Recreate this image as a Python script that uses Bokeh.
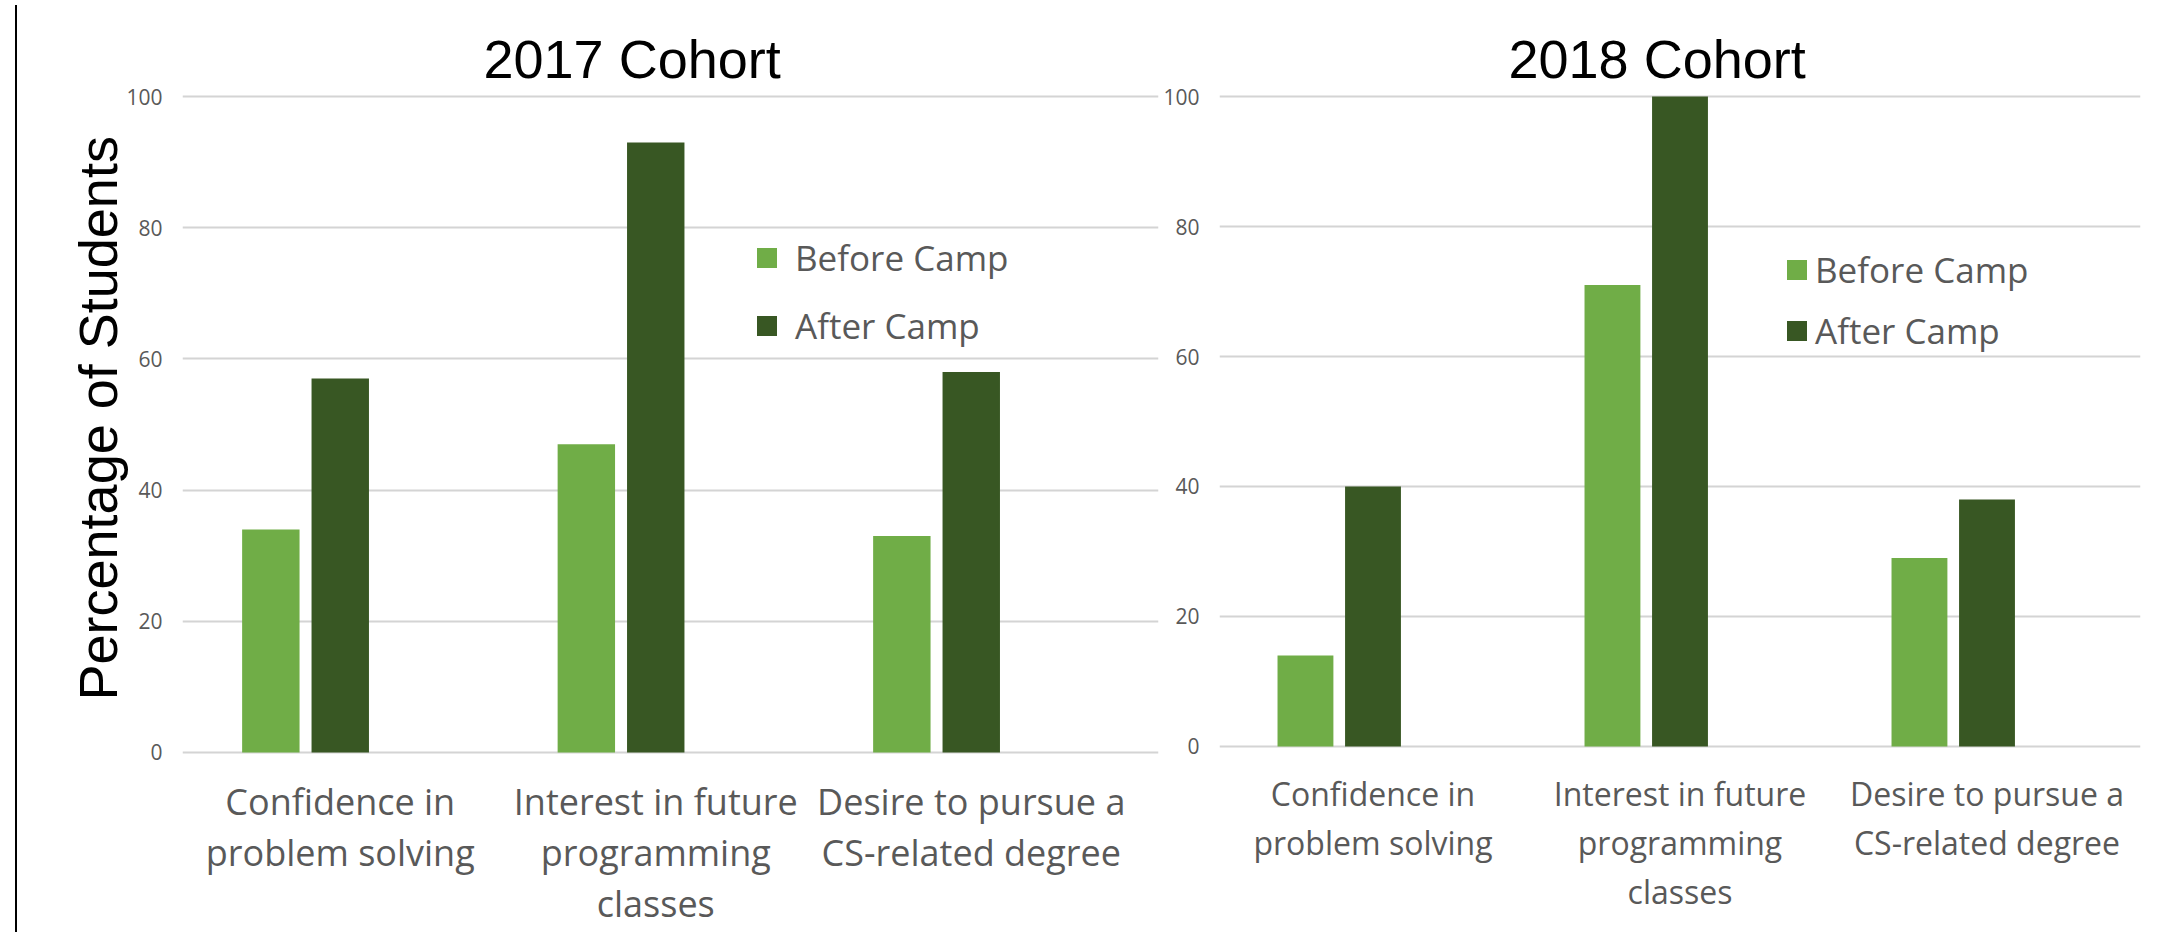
from bokeh.plotting import figure
from bokeh.models import (ColumnDataSource, Range1d, FixedTicker, Legend, LegendItem,
                          Div, Spacer, LabelSet, Title)
from bokeh.core.properties import value
from bokeh.layouts import row
from bokeh.transform import dodge
from bokeh.embed import file_html
from bokeh.resources import INLINE

# ---------------- data ----------------
categories = ["Confidence in problem solving",
              "Interest in future programming classes",
              "Desire to pursue a CS-related degree"]
category_labels = ["Confidence in\nproblem solving",
                   "Interest in future\nprogramming\nclasses",
                   "Desire to pursue a\nCS-related degree"]
before_2017 = [34, 47, 33]
after_2017 = [57, 93, 58]
before_2018 = [14, 71, 29]
after_2018 = [40, 100, 38]
y_ticks = [0, 20, 40, 60, 80, 100]
series_names = ["Before Camp", "After Camp"]
series_colors = ["#70ad47", "#385723"]
titles = ["2017 Cohort", "2018 Cohort"]
y_title = "Percentage of Students"

GRAY = "#595959"
LABEL_FONT = "Open Sans"
TITLE_FONT = "Liberation Sans"
H = 932


def make_panel(title, before, after, width, x_end, y_start, y_end, mbl, mbr, mbt,
               label_size, label_step, label_offset, title_offset,
               legend_xy, legend_spacing, legend_standoff, y_label=None):
    pos = list(range(1, len(categories) + 1))
    src = ColumnDataSource(dict(x=pos, cat=categories, before=before, after=after))
    p = figure(width=width, height=H, x_range=Range1d(0.5, x_end),
               y_range=Range1d(y_start, y_end), output_backend="svg",
               toolbar_location=None, min_border_left=mbl, min_border_right=mbr,
               min_border_top=mbt, min_border_bottom=0, title=title)
    r1 = p.vbar(x=dodge("x", -0.22), top="before", bottom=0, width=0.182,
                source=src, fill_color=series_colors[0], line_color=None)
    r2 = p.vbar(x="x", top="after", bottom=0, width=0.182,
                source=src, fill_color=series_colors[1], line_color=None)

    p.title.text_font = TITLE_FONT
    p.title.text_font_size = "54px"
    p.title.text_font_style = "normal"
    p.title.text_color = "black"
    p.title.align = "left"
    p.title.offset = title_offset
    p.title.standoff = 2

    p.outline_line_color = None
    p.background_fill_color = "white"
    p.border_fill_color = "white"

    # x axis: category names written (centred, line by line) under each group
    p.xaxis.ticker = FixedTicker(ticks=pos)
    p.xaxis.visible = False
    p.xgrid.visible = False
    lx, lt, lj = [], [], []
    for xp, lab in zip(pos, category_labels):
        for j, t in enumerate(lab.split("\n")):
            lx.append(xp)
            lt.append(t)
            lj.append(j)
    line_src = ColumnDataSource(dict(x=lx, text=lt,
                                     yoff=[label_offset - j * label_step for j in lj]))
    cat_labels = LabelSet(x="x", y=0, text="text", source=line_src,
                          y_offset="yoff", text_align="center", text_baseline="top",
                          text_font=value(LABEL_FONT), text_font_size=f"{label_size}px",
                          text_color=GRAY)
    p.add_layout(cat_labels)

    # y axis
    p.yaxis.ticker = FixedTicker(ticks=y_ticks)
    p.ygrid.ticker = FixedTicker(ticks=y_ticks)
    p.yaxis.axis_line_color = None
    p.yaxis.major_tick_line_color = None
    p.yaxis.minor_tick_line_color = None
    p.yaxis.major_tick_out = 0
    p.yaxis.major_tick_in = 0
    p.yaxis.major_label_text_font = LABEL_FONT
    p.yaxis.major_label_text_font_size = "21px"
    p.yaxis.major_label_text_color = GRAY
    p.yaxis.major_label_standoff = 20
    p.ygrid.grid_line_color = "#d4d4d4"
    p.ygrid.grid_line_width = 2
    if y_label:
        ytitle = Title(text=y_label, align="left", offset=232,
                       text_font=TITLE_FONT, text_font_size="54px",
                       text_font_style="normal", text_color="black", standoff=-8)
        p.add_layout(ytitle, "left")

    legend = Legend(items=[LegendItem(label=series_names[0], renderers=[r1]),
                           LegendItem(label=series_names[1], renderers=[r2])],
                    location=legend_xy, orientation="vertical")
    legend.label_text_font = LABEL_FONT
    legend.label_text_font_size = "35px"
    legend.label_text_color = GRAY
    legend.glyph_width = 25
    legend.glyph_height = 25
    legend.label_height = 48
    legend.label_standoff = legend_standoff
    legend.spacing = legend_spacing
    legend.padding = 0
    legend.margin = 0
    legend.border_line_color = None
    legend.background_fill_alpha = 0
    p.add_layout(legend)
    return p


left = make_panel(titles[0], before_2017, after_2017, width=1137, x_end=3.5935,
                  y_start=-27.44, y_end=101.07, mbl=160, mbr=1, mbt=89,
                  label_size=36, label_step=51, label_offset=-25,
                  title_offset=301, legend_xy=(572, 583), legend_spacing=20,
                  legend_standoff=16, y_label=y_title)
right = make_panel(titles[1], before_2018, after_2018, width=999, x_end=3.5,
                   y_start=-28.62, y_end=101.08, mbl=60, mbr=18, mbt=89,
                   label_size=32, label_step=49, label_offset=-26,
                   title_offset=289, legend_xy=(565, 578), legend_spacing=13,
                   legend_standoff=6)

border_line = Div(text="", width=2, height=H, styles={"background-color": "black"})
layout = row(Spacer(width=10, height=H), border_line, left, right)

open("out.html", "w").write(file_html(layout, INLINE))
